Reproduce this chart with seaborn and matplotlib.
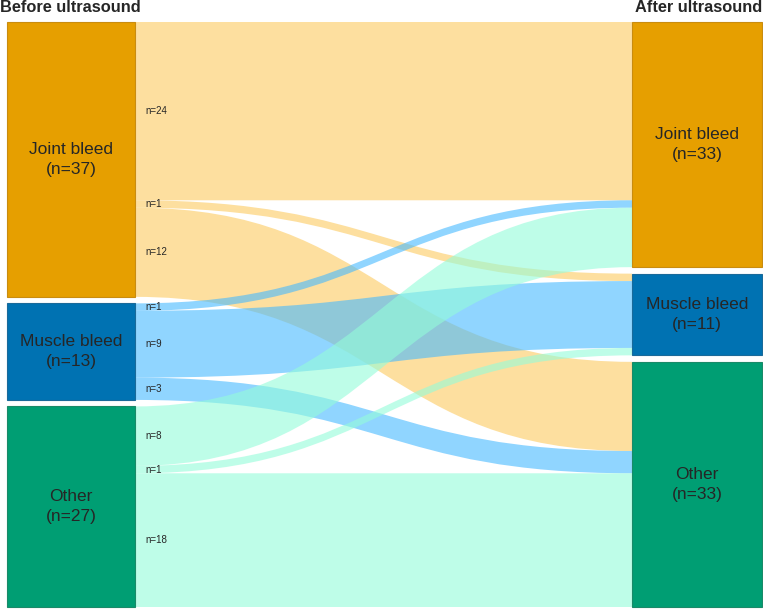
import numpy as np
import seaborn as sns
import matplotlib.pyplot as plt
from matplotlib.path import Path
from matplotlib.patches import PathPatch, Rectangle

# categories and flows (before -> after)
categories = ["Joint bleed", "Muscle bleed", "Other"]
joint_to = [24, 1, 12]
muscle_to = [1, 9, 3]
other_to = [8, 1, 18]
flows = np.array([joint_to, muscle_to, other_to])

node_colors = ["#E69F00", "#0072B2", "#009E73"]
edge_colors = ["#C98C10", "#1A6A9A", "#1A8A68"]
flow_colors = ["#FCCA5F", "#46B9FF", "#94FCD9"]

sns.set_theme(style="white")
plt.rcParams['font.family'] = ['Liberation Sans', 'DejaVu Sans']

fig = plt.figure(figsize=(7.63, 6.09), dpi=100)
ax = fig.add_axes([0, 0, 1, 1])
ax.set_xlim(0, 763)
ax.set_ylim(609, 0)
ax.axis("off")

top, bottom, gap = 22, 607, 6.5
total = flows.sum()
scale = (bottom - top - 2 * gap) / total
lx0, lx1 = 7, 135
rx0, rx1 = 632, 762

left_tot = flows.sum(axis=1)
right_tot = flows.sum(axis=0)

def node_tops(tots):
    ys, y = [], top
    for t in tots:
        ys.append(y)
        y += t * scale + gap
    return ys

ltop = node_tops(left_tot)
rtop = node_tops(right_tot)

# flows
lcur = list(ltop)
rstart = []
for j in range(3):
    y = rtop[j]
    starts = []
    for i in range(3):
        starts.append(y)
        y += flows[i, j] * scale
    rstart.append(starts)

for i in range(3):
    for j in range(3):
        h = flows[i, j] * scale
        y0 = lcur[i]
        y1 = rstart[j][i]
        xm = (lx1 + rx0) / 2
        verts = [(lx1, y0), (xm, y0), (xm, y1), (rx0, y1),
                 (rx0, y1 + h), (xm, y1 + h), (xm, y0 + h), (lx1, y0 + h),
                 (lx1, y0)]
        codes = [Path.MOVETO, Path.CURVE4, Path.CURVE4, Path.CURVE4,
                 Path.LINETO, Path.CURVE4, Path.CURVE4, Path.CURVE4,
                 Path.CLOSEPOLY]
        ax.add_patch(PathPatch(Path(verts, codes), facecolor=flow_colors[i],
                               alpha=0.6, edgecolor="none", zorder=1))
        ax.text(145, y0 + h / 2, f"n={flows[i, j]}", fontsize=7,
                va="center", ha="left", zorder=3)
        lcur[i] += h

# nodes
for k in range(3):
    for x0, x1, ys, tots in [(lx0, lx1, ltop, left_tot), (rx0, rx1, rtop, right_tot)]:
        h = tots[k] * scale
        ax.add_patch(Rectangle((x0, ys[k]), x1 - x0, h, facecolor=node_colors[k],
                               edgecolor=edge_colors[k], linewidth=0.8, zorder=2))
        ax.text((x0 + x1) / 2, ys[k] + h / 2, f"{categories[k]}\n(n={tots[k]})",
                ha="center", va="center", fontsize=12.5, zorder=3, linespacing=1.45)

ax.text(0, 8, "Before ultrasound", fontsize=11.8, fontweight="bold", ha="left", va="center")
ax.text(762, 8, "After ultrasound", fontsize=11.8, fontweight="bold", ha="right", va="center")

fig.savefig("out.png", dpi=100)
